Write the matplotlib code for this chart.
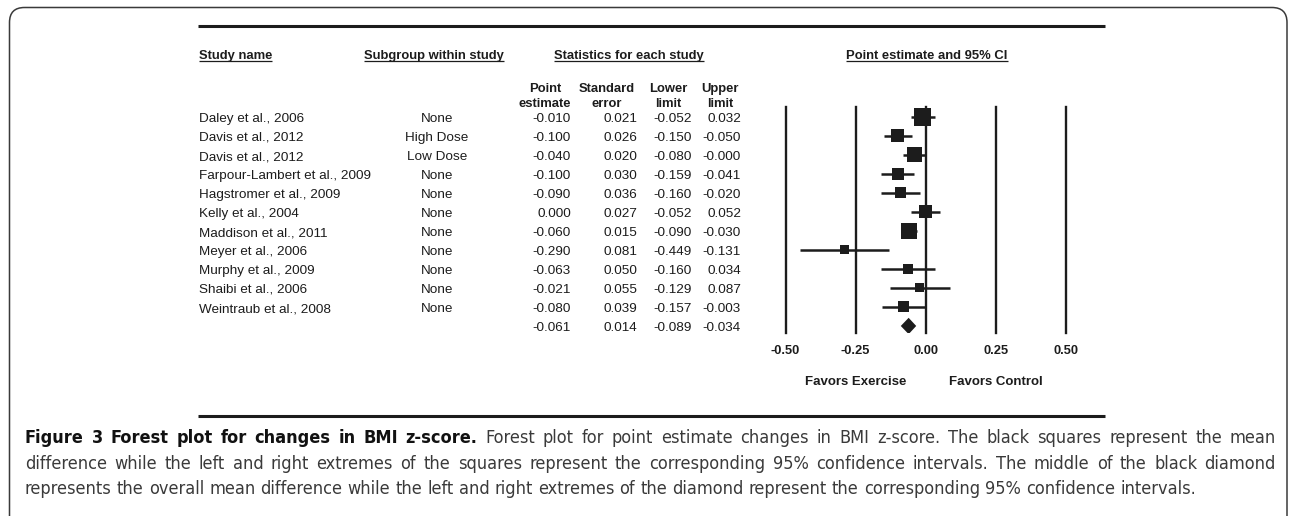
import matplotlib
matplotlib.use("Agg")
import matplotlib.pyplot as plt
from matplotlib import font_manager
from matplotlib.patches import FancyBboxPatch, Polygon

# ---- data ----
studies = ["Daley et al., 2006", "Davis et al., 2012", "Davis et al., 2012",
           "Farpour-Lambert et al., 2009", "Hagstromer et al., 2009", "Kelly et al., 2004",
           "Maddison et al., 2011", "Meyer et al., 2006", "Murphy et al., 2009",
           "Shaibi et al., 2006", "Weintraub et al., 2008"]
subgroups = ["None", "High Dose", "Low Dose", "None", "None", "None",
             "None", "None", "None", "None", "None"]
point_est = [-0.010, -0.100, -0.040, -0.100, -0.090, 0.000, -0.060, -0.290, -0.063, -0.021, -0.080]
std_err = [0.021, 0.026, 0.020, 0.030, 0.036, 0.027, 0.015, 0.081, 0.050, 0.055, 0.039]
lower = [-0.052, -0.150, -0.080, -0.159, -0.160, -0.052, -0.090, -0.449, -0.160, -0.129, -0.157]
upper = [0.032, -0.050, -0.000, -0.041, -0.020, 0.052, -0.030, -0.131, 0.034, 0.087, -0.003]
# relative weights (%)
weights = [16.5, 9.6, 12.8, 8.2, 6.9, 9.6, 14.6, 4.6, 5.7, 4.6, 6.9]
summary_est, summary_se, summary_lower, summary_upper = -0.061, 0.014, -0.089, -0.034
ticks = [-0.50, -0.25, 0.00, 0.25, 0.50]

caption_bold = "Figure 3 Forest plot for changes in BMI z-score."
caption_lines = [
    "Forest plot for point estimate changes in BMI z-score. The black squares represent the mean",
    "difference while the left and right extremes of the squares represent the corresponding 95% confidence intervals. The middle of the black diamond",
    "represents the overall mean difference while the left and right extremes of the diamond represent the corresponding 95% confidence intervals.",
]

W, H = 1292, 516
INK = "#1c1c1c"
TFONT = "Liberation Sans"
names = {f.name for f in font_manager.fontManager.ttflist}
if "Liberation Sans Narrow" in names:
    CFONT, CSTRETCH = "Liberation Sans Narrow", "normal"
else:
    CFONT, CSTRETCH = "DejaVu Sans", "condensed"

fig = plt.figure(figsize=(W / 100, H / 100), dpi=100)
ax0 = fig.add_axes([0, 0, 1, 1])
ax0.set_xlim(0, W)
ax0.set_ylim(H, 0)
ax0.axis("off")

# rounded frame and rules
ax0.add_patch(FancyBboxPatch((9.5, 7.5), 1277.5, 560, boxstyle="round,pad=0,rounding_size=15",
                             fill=False, ec="#3a3a3a", lw=1.1, clip_on=False))
ax0.plot([198, 1105], [26, 26], color=INK, lw=2.2, solid_capstyle="butt")
ax0.plot([198, 1105], [416, 416], color=INK, lw=2.2, solid_capstyle="butt")

# headers
hdr = dict(fontsize=9.4, fontweight="bold", family=TFONT, color=INK, va="baseline")
underlined = [
    ax0.text(199, 59, "Study name", ha="left", **hdr),
    ax0.text(434, 59, "Subgroup within study", ha="center", **hdr),
    ax0.text(629, 59, "Statistics for each study", ha="center", **hdr),
    ax0.text(927, 59, "Point estimate and 95% CI", ha="center", **hdr),
]
for x, (a, b) in zip([545, 607, 668, 720],
                     [("Point", "estimate"), ("Standard", "error"), ("Lower", "limit"), ("Upper", "limit")]):
    ax0.text(x, 92, a, ha="center", **hdr)
    ax0.text(x, 107, b, ha="center", **hdr)

# table body
body = dict(fontsize=9.7, family=TFONT, color=INK, va="baseline")
def row_y(i):
    return 122 + 19 * i

for i, name in enumerate(studies):
    ax0.text(199, row_y(i), name, ha="left", **body)
    ax0.text(437, row_y(i), subgroups[i], ha="center", **body)
cols = [point_est + [summary_est], std_err + [summary_se],
        lower + [summary_lower], upper + [summary_upper]]
for xr, vals in zip([571, 637, 692, 741], cols):
    for i, v in enumerate(vals):
        ax0.text(xr, row_y(i), f"{v:.3f}", ha="right", **body)

# forest plot
ax = fig.add_axes([785.5 / W, (H - 333) / H, 280.5 / W, 226 / H])
ax.set_xlim(-0.5, 0.5)
ax.set_ylim(11.37, -0.526)
ax.patch.set_alpha(0)
for s in ax.spines.values():
    s.set_visible(False)
for t in ticks:
    ax.axvline(t, color=INK, lw=1.7, clip_on=False, zorder=1)
rows = list(range(len(studies)))
ax.hlines(rows, lower, upper, color=INK, lw=1.8, zorder=2)
sides = [4.19 * w ** 0.5 * 0.72 for w in weights]
ax.scatter(point_est, rows, marker="s", s=[sd ** 2 for sd in sides], color=INK, lw=0, zorder=3)
r = len(studies)
ax.add_patch(Polygon([(summary_lower, r), (summary_est, r - 0.43), (summary_upper, r), (summary_est, r + 0.43)],
                     closed=True, color=INK, lw=0, zorder=3))
ax.set_yticks([])
ax.set_xticks(ticks)
ax.set_xticklabels([f"{t:.2f}" for t in ticks], fontsize=9.3, fontweight="bold", family=TFONT, color=INK)
ax.tick_params(axis="x", length=0, pad=9)
ax.text(-0.25, (333 - 385) / 226, "Favors Exercise", transform=ax.get_xaxis_transform(),
        ha="center", va="baseline", fontsize=9.5, fontweight="bold", family=TFONT, color=INK)
ax.text(0.25, (333 - 385) / 226, "Favors Control", transform=ax.get_xaxis_transform(),
        ha="center", va="baseline", fontsize=9.5, fontweight="bold", family=TFONT, color=INK)

# underline header texts
fig.canvas.draw()
renderer = fig.canvas.get_renderer()
inv = ax0.transData.inverted()
for t in underlined:
    bb = t.get_window_extent(renderer)
    x0 = inv.transform((bb.x0, 0))[0]
    x1 = inv.transform((bb.x1, 0))[0]
    ax0.plot([x0, x1], [61, 61], color=INK, lw=0.9, solid_capstyle="butt")

# caption: justified block, last line ragged
cap = dict(family=CFONT, fontstretch=CSTRETCH, va="baseline")
def width_px(txt, fs, weight):
    t = ax0.text(0, 0, txt, fontsize=fs, fontweight=weight, **cap)
    w = t.get_window_extent(renderer).width
    t.remove()
    return w

fs0 = 12
w1 = width_px(caption_bold + " " + caption_lines[0], fs0, "normal") + \
     width_px(caption_bold, fs0, "bold") - width_px(caption_bold, fs0, "normal")
w2 = width_px(caption_lines[1], fs0, "normal")
fs = fs0 * min(1210 / w1, 1200 / w2)
space = width_px("a a", fs, "normal") - width_px("aa", fs, "normal")

def place_words(y, words, x_left, x_right=None):
    widths = [width_px(w, fs, wt) for w, wt, _ in words]
    gap = space if x_right is None else (x_right - x_left - sum(widths)) / (len(words) - 1)
    x = x_left
    for (w, wt, c), wd in zip(words, widths):
        ax0.text(x, y, w, fontsize=fs, fontweight=wt, color=c, **cap)
        x += wd + gap

BOLD_C, REG_C = "#111111", "#3a3a3a"
line1 = [(w, "bold", BOLD_C) for w in caption_bold.split()] + \
        [(w, "normal", REG_C) for w in caption_lines[0].split()]
place_words(443, line1, 25, 1276)
place_words(469, [(w, "normal", REG_C) for w in caption_lines[1].split()], 25, 1276)
place_words(494, [(w, "normal", REG_C) for w in caption_lines[2].split()], 25)

fig.savefig("out.png", dpi=100)
